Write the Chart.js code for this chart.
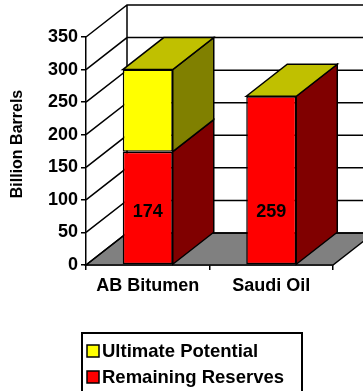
<!DOCTYPE html>
<html>
<head>
<meta charset="utf-8">
<script src="https://cdn.jsdelivr.net/npm/chart.js@4"></script>
<style>
  html, body { margin: 0; padding: 0; background: #fff; overflow: hidden; }
  canvas { display: block; }
</style>
</head>
<body>
<canvas id="c" width="363" height="391"></canvas>
<script>
// Reserve figures, billion barrels
const categories = ['AB Bitumen', 'Saudi Oil'];
const remainingReserves = [174, 259];
const ultimatePotential = [126, 0];
const yTickValues = [0, 50, 100, 150, 200, 250, 300, 350];
const yTitle = 'Billion Barrels';

const FONT = '"Liberation Sans", Arial, Helvetica, sans-serif';
const DEPTH = { dx: 41, dy: -32 };   // receding offset of the 3-D box
const LINE = 1.5;

function poly(ctx, pts, fill) {
  ctx.beginPath();
  ctx.moveTo(pts[0][0], pts[0][1]);
  for (let i = 1; i < pts.length; i++) ctx.lineTo(pts[i][0], pts[i][1]);
  ctx.closePath();
  if (fill) { ctx.fillStyle = fill; ctx.fill(); }
  ctx.stroke();
}

// Floor, walls, and the side/top faces of each column
const box3d = {
  id: 'box3d',
  beforeDatasetsDraw(chart) {
    const { ctx, chartArea: a, scales: { y } } = chart;
    const { dx, dy } = DEPTH;
    const y0 = y.getPixelForValue(0);
    const yTop = y.getPixelForValue(yTickValues[yTickValues.length - 1]);
    ctx.save();
    ctx.strokeStyle = '#000';
    ctx.lineWidth = LINE;
    ctx.lineJoin = 'miter';

    poly(ctx, [[a.left, y0], [a.right, y0], [a.right + dx, y0 + dy], [a.left + dx, y0 + dy]], '#808080');

    ctx.beginPath();
    yTickValues.forEach(v => {
      const py = y.getPixelForValue(v);
      ctx.moveTo(a.left, py);
      ctx.lineTo(a.left + dx, py + dy);
      ctx.lineTo(a.right + dx, py + dy);
    });
    ctx.moveTo(a.left + dx, y0 + dy);
    ctx.lineTo(a.left + dx, yTop + dy);
    ctx.stroke();

    const n = chart.data.datasets.length;
    chart.data.datasets.forEach((ds, di) => {
      const meta = chart.getDatasetMeta(di);
      meta.data.forEach(el => {
        const p = el.getProps(['x', 'y', 'base', 'width'], true);
        const l = p.x - p.width / 2, r = p.x + p.width / 2;
        const top = Math.min(p.y, p.base), bot = Math.max(p.y, p.base);
        if (bot - top > 0.5) {
          poly(ctx, [[r, bot], [r + dx, bot + dy], [r + dx, top + dy], [r, top]], ds.sideColor);
        }
        if (di === n - 1) {
          poly(ctx, [[l, top], [l + dx, top + dy], [r + dx, top + dy], [r, top]], ds.topColor);
        }
      });
    });
    ctx.restore();
  },
  afterDatasetsDraw(chart) {
    const { ctx, scales: { y } } = chart;
    const y0 = y.getPixelForValue(0);
    ctx.save();
    ctx.fillStyle = '#000';
    ctx.font = 'bold 18px ' + FONT;
    ctx.textAlign = 'center';
    ctx.textBaseline = 'middle';
    const meta = chart.getDatasetMeta(0);
    meta.data.forEach((el, i) => {
      ctx.fillText(String(remainingReserves[i]), el.x, y0 - 53);
    });
    ctx.restore();
  },
  afterDraw(chart) {
    const { ctx } = chart;
    ctx.save();
    // axis title, rotated
    ctx.fillStyle = '#000';
    ctx.font = 'bold 16px ' + FONT;
    ctx.textAlign = 'center';
    ctx.textBaseline = 'middle';
    ctx.translate(18, 144);
    ctx.rotate(-Math.PI / 2);
    ctx.fillText(yTitle, 0, 0);
    ctx.restore();

    // boxed legend, top entry first
    ctx.save();
    ctx.strokeStyle = '#000';
    ctx.lineWidth = 2;
    ctx.strokeRect(82, 333, 220, 80);
    ctx.font = 'bold 18.5px ' + FONT;
    ctx.textBaseline = 'middle';
    ctx.textAlign = 'left';
    const items = chart.data.datasets.slice().reverse();
    items.forEach((ds, i) => {
      const cy = 351 + i * 26;
      ctx.fillStyle = ds.backgroundColor;
      ctx.lineWidth = 1.5;
      ctx.fillRect(87, cy - 6, 12, 12);
      ctx.strokeRect(87, cy - 6, 12, 12);
      ctx.fillStyle = '#000';
      ctx.fillText(ds.label, 102, cy + 1);
    });
    ctx.restore();
  }
};

const tickFont = { family: FONT, size: 18, weight: 'bold' };

new Chart(document.getElementById('c'), {
  type: 'bar',
  data: {
    labels: categories,
    datasets: [
      { label: 'Remaining Reserves', data: remainingReserves, backgroundColor: '#FF0000',
        sideColor: '#800000', topColor: '#C00000',
        borderColor: '#000', borderWidth: LINE, borderSkipped: false },
      { label: 'Ultimate Potential', data: ultimatePotential, backgroundColor: '#FFFF00',
        sideColor: '#808000', topColor: '#C0C000',
        borderColor: '#000', borderWidth: LINE, borderSkipped: false }
    ]
  },
  options: {
    responsive: false,
    devicePixelRatio: 1,
    animation: false,
    layout: { padding: { top: 37, right: 30, left: 0, bottom: 0 } },
    datasets: { bar: { categoryPercentage: 1, barPercentage: 0.405 } },
    plugins: { legend: { display: false }, tooltip: { enabled: false } },
    scales: {
      x: {
        stacked: true,
        offset: true,
        grid: { offset: true, drawOnChartArea: false, tickLength: 5, color: '#000', lineWidth: LINE },
        border: { color: '#000', width: LINE },
        ticks: { color: '#000', font: tickFont, padding: 5 },
        afterFit(s) { s.height = 126; }
      },
      y: {
        stacked: true,
        min: 0,
        max: 350,
        afterBuildTicks(s) { s.ticks = yTickValues.map(v => ({ value: v })); },
        grid: { drawOnChartArea: false, tickLength: 5, color: '#000', lineWidth: LINE },
        border: { color: '#000', width: LINE },
        ticks: { color: '#000', font: tickFont, padding: 3 },
        afterFit(s) { s.width = 86; }
      }
    }
  },
  plugins: [box3d]
});
</script>
</body>
</html>
